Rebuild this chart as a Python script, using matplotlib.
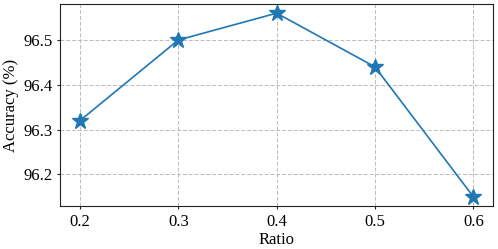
import matplotlib.pyplot as plt

# Accuracy vs ratio
ratios = [0.2, 0.3, 0.4, 0.5, 0.6]
accuracy = [96.32, 96.50, 96.56, 96.44, 96.15]

plt.rcParams['font.family'] = ['Liberation Serif', 'DejaVu Serif']

fig, ax = plt.subplots(figsize=(4.98, 2.49), dpi=100)
fig.subplots_adjust(left=0.121, right=0.99, bottom=0.173, top=0.984)

ax.plot(ratios, accuracy, color='#1f77b4', marker='*', markersize=12, linewidth=1.2)

ax.set_xticks(ratios)
ax.set_yticks([96.2, 96.3, 96.4, 96.5])
ax.tick_params(labelsize=12, length=2.5, width=0.8, pad=3, color='#222222')
ax.set_xlabel('Ratio', fontsize=12, labelpad=2)
ax.set_ylabel('Accuracy (%)', fontsize=12, labelpad=3)
ax.grid(True, linestyle=(0, (4, 2)), color='#bbbbbb', linewidth=0.7)
for s in ax.spines.values():
    s.set_color('#222222')

fig.savefig('out.png', dpi=100)
